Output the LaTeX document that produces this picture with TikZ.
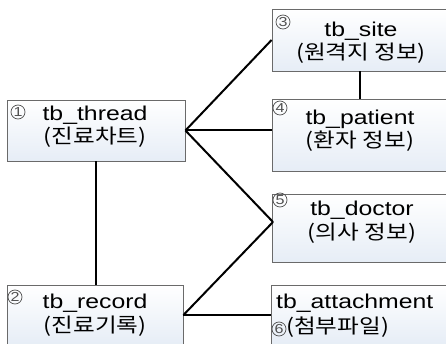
\documentclass[tikz,border=0pt]{standalone}
\usepackage{fontspec}
\setmainfont[FakeStretch=1.24]{Liberation Sans}
\newfontfamily\kr[FakeStretch=1.18]{Noto Sans CJK KR}
\definecolor{boxbot}{HTML}{E6EDF6}
\definecolor{boxline}{HTML}{6A6A6A}
\definecolor{numgray}{HTML}{505050}
\tikzset{
  tbl/.style={draw=boxline, line width=0.9pt, top color=white, bottom color=boxbot, rectangle, inner sep=0pt},
  lbl/.style={align=center, font=\fontsize{20}{23.5}\selectfont, inner sep=0pt},
  num/.style={circle, draw=numgray, line width=0.7pt, text=numgray, inner sep=0pt, minimum size=14pt, font=\fontsize{13}{13}\selectfont},
  link/.style={line width=2pt, black}
}
\begin{document}
\begin{tikzpicture}[x=1pt,y=-1pt]
\useasboundingbox (0,0) rectangle (446,344);
\clip (0,0) rectangle (446,344);
\fill[white] (0,0) rectangle (446,344);
% boxes
\node[tbl, minimum width=178pt, minimum height=61pt] (thread) at (96,130.5) {};
\node[tbl, minimum width=176pt, minimum height=62pt] (site) at (360,40) {};
\node[tbl, minimum width=176pt, minimum height=72pt] (patient) at (360,135) {};
\node[tbl, minimum width=176pt, minimum height=68pt] (doctor) at (360,228) {};
\node[tbl, minimum width=176pt, minimum height=60pt] (record) at (95,315) {};
\node[tbl, minimum width=178pt, minimum height=60pt] (attach) at (360,315) {};
% labels
\node[lbl] (tthread) at (95,126.5) {tb\_thread\\{\kr (진료차트)}};
\node[lbl] (tsite) at (361,42.5) {tb\_site\\{\kr (원격지 정보)}};
\node[lbl] (tpatient) at (360,130.5) {tb\_patient\\{\kr (환자 정보)}};
\node[lbl] (tdoctor) at (362,222) {tb\_doctor\\{\kr (의사 정보)}};
\node[lbl] (trecord) at (95,315) {tb\_record\\{\kr (진료기록)}};
\node[lbl, anchor=west] (tattach1) at (276,303) {tb\_attachment};
\node[lbl, anchor=west] (tattach2) at (286,327) {\kr (첨부파일)};
% numbers
\node[num] (n1) at (18,112) {1};
\node[num] (n2) at (15,297) {2};
\node[num] (n3) at (283,22) {3};
\node[num] (n4) at (280,108) {4};
\node[num] (n5) at (280,200) {5};
\node[num] (n6) at (279,329) {6};
% connectors
\coordinate (dk) at (273,222);
\draw[link] (thread.east) -- (site.west);
\draw[link] (thread.east) -- (thread.east -| patient.west);
\draw[link] (thread.east) -- (dk);
\draw[link] (record.east) -- (dk);
\draw[link] (record.east) -- (attach.west);
\draw[link] (thread.south) -- (thread.south |- record.north);
\draw[link] (site.south) -- (patient.north);
\end{tikzpicture}
\end{document}
